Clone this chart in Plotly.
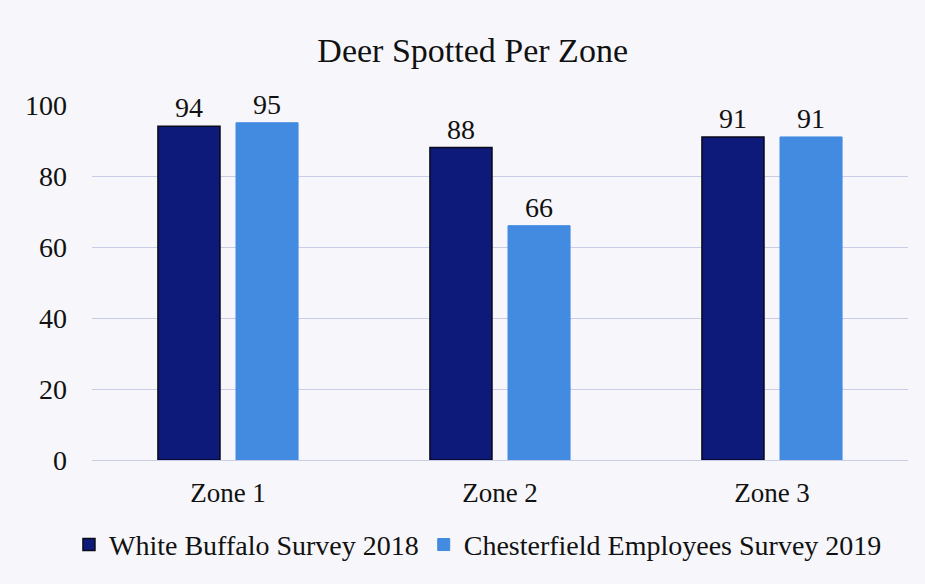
import plotly.graph_objects as go

zones = ["Zone 1", "Zone 2", "Zone 3"]
white_buffalo_2018 = [94, 88, 91]
chesterfield_2019 = [95, 66, 91]
series_names = ["White Buffalo Survey 2018", "Chesterfield Employees Survey 2019"]
y_ticks = [0, 20, 40, 60, 80, 100]

font_family = "Liberation Serif, Times New Roman, serif"
dark = "#0e1a7a"
light = "#428be0"
bg = "#f7f7fb"

fig = go.Figure()
fig.add_trace(go.Bar(
    x=zones, y=white_buffalo_2018, name=series_names[0],
    marker=dict(color=dark, line=dict(color="#0a0a1a", width=1.5)),
    text=white_buffalo_2018, textposition="outside",
    textfont=dict(size=28, color="#111111", family=font_family),
    cliponaxis=False,
))
fig.add_trace(go.Bar(
    x=zones, y=chesterfield_2019, name=series_names[1],
    marker=dict(color=light, line=dict(color=light, width=1)),
    text=chesterfield_2019, textposition="outside",
    textfont=dict(size=28, color="#111111", family=font_family),
    cliponaxis=False,
))

fig.update_layout(
    width=925, height=584,
    barmode="group", bargap=0.426, bargroupgap=0.205,
    paper_bgcolor=bg, plot_bgcolor=bg,
    font=dict(family=font_family, size=28, color="#111111"),
    title=dict(text="Deer Spotted Per Zone", x=0.511, xanchor="center", y=0.914, yanchor="middle",
               font=dict(size=34, family=font_family, color="#111111")),
    margin=dict(l=92, r=17, t=105, b=124, autoexpand=False),
    legend=dict(orientation="h", x=0.473, xanchor="center", y=-0.239, yanchor="middle",
                font=dict(size=28, family=font_family), itemwidth=30, traceorder="normal",
                bgcolor="rgba(0,0,0,0)"),
    showlegend=True,
)
fig.update_xaxes(showgrid=False, showline=False, ticks="", tickfont=dict(size=27),
                 ticklabelstandoff=14)
fig.update_yaxes(range=[0, 100], tickvals=y_ticks, showgrid=True, gridcolor="#c8cce6",
                 gridwidth=1, zeroline=True, zerolinecolor="#c8cce6", zerolinewidth=1,
                 tickfont=dict(size=28), ticklabelstandoff=24)

fig.write_html("out.html", config={"displayModeBar": False},
               post_script="document.body.style.margin='0';document.body.style.background='%s';" % bg)
